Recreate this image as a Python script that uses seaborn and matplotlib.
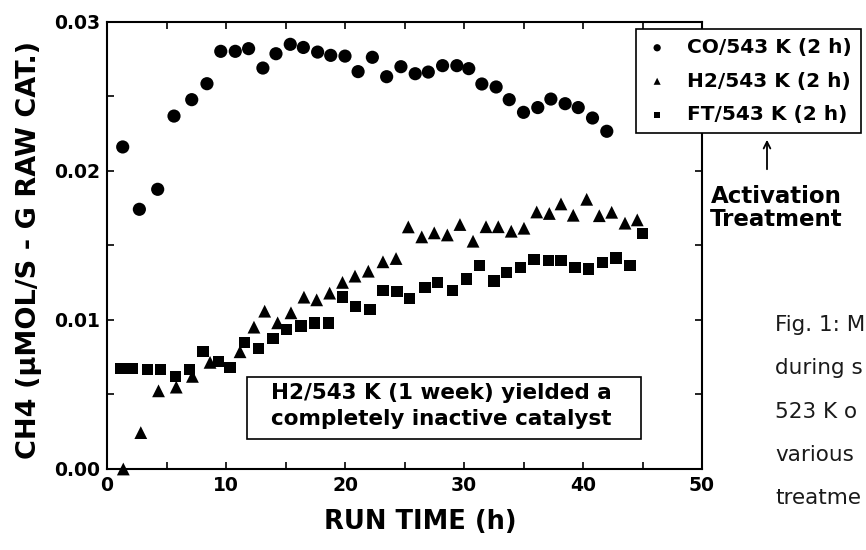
import matplotlib
matplotlib.use("Agg")
import matplotlib.pyplot as plt
import numpy as np
import pandas as pd
import seaborn as sns
from matplotlib.ticker import MultipleLocator, FormatStrFormatter
from matplotlib.patches import Rectangle

# ---- data ----
co_time = [1.32, 2.72, 4.26, 5.63, 7.12, 8.40, 9.56, 10.78, 11.90, 13.10, 14.20, 15.40,
           16.50, 17.70, 18.80, 20.00, 21.10, 22.30, 23.50, 24.70, 25.90, 27.00, 28.20,
           29.40, 30.40, 31.50, 32.70, 33.80, 35.00, 36.20, 37.30, 38.50, 39.60, 40.80, 42.00]
co_ch4 = [0.02159, 0.01741, 0.01875, 0.02366, 0.02476, 0.02583, 0.02800, 0.02800, 0.02818,
          0.02688, 0.02784, 0.02847, 0.02826, 0.02795, 0.02773, 0.02768, 0.02664, 0.02760,
          0.02630, 0.02697, 0.02650, 0.02661, 0.02704, 0.02704, 0.02684, 0.02581, 0.02561,
          0.02476, 0.02391, 0.02423, 0.02480, 0.02449, 0.02423, 0.02353, 0.02264]

h2_time = [1.37, 2.84, 4.33, 5.82, 7.18, 8.66, 11.18, 12.35, 13.25, 14.34, 15.46, 16.55,
           17.62, 18.71, 19.79, 20.84, 21.96, 23.19, 24.29, 25.32, 26.45, 27.50, 28.60,
           29.66, 30.76, 31.85, 32.88, 33.97, 35.04, 36.11, 37.17, 38.15, 39.18, 40.31,
           41.37, 42.41, 43.53, 44.56]
h2_ch4 = [0.00000, 0.00244, 0.00524, 0.00549, 0.00621, 0.00715, 0.00786, 0.00951, 0.01058,
          0.00980, 0.01047, 0.01152, 0.01134, 0.01179, 0.01251, 0.01293, 0.01326, 0.01389,
          0.01411, 0.01623, 0.01556, 0.01583, 0.01569, 0.01639, 0.01527, 0.01624, 0.01624,
          0.01594, 0.01614, 0.01723, 0.01713, 0.01777, 0.01701, 0.01808, 0.01698, 0.01721,
          0.01648, 0.01670]

ft_time = [1.18, 2.17, 3.38, 4.50, 5.78, 6.95, 8.07, 9.35, 10.34, 11.55, 12.73, 13.95,
           15.10, 16.30, 17.44, 18.60, 19.81, 20.87, 22.10, 23.19, 24.37, 25.44, 26.72,
           27.79, 29.02, 30.23, 31.29, 32.52, 33.59, 34.76, 35.88, 37.08, 38.15, 39.33,
           40.45, 41.66, 42.77, 43.95, 45.02]
ft_ch4 = [0.00676, 0.00676, 0.00668, 0.00668, 0.00618, 0.00665, 0.00790, 0.00719, 0.00680,
          0.00849, 0.00810, 0.00875, 0.00936, 0.00959, 0.00978, 0.00978, 0.01154, 0.01090,
          0.01067, 0.01199, 0.01188, 0.01143, 0.01217, 0.01251, 0.01199, 0.01273, 0.01366,
          0.01261, 0.01315, 0.01351, 0.01405, 0.01400, 0.01400, 0.01351, 0.01340, 0.01384,
          0.01415, 0.01366, 0.01579]

labels = ["CO/543 K (2 h)", "H2/543 K (2 h)", "FT/543 K (2 h)"]
x_ticks = [0, 10, 20, 30, 40, 50]
y_ticks = [0.00, 0.01, 0.02, 0.03]
note_lines = ["H2/543 K (1 week) yielded a", "completely inactive catalyst"]
caption_lines = ["Fig. 1: M", "during s", "523 K o", "various", "treatme"]

# ---- style ----
sns.set_theme(style="ticks")
plt.rcParams['font.family'] = ['DejaVu Sans']
plt.rcParams.update({'text.color': 'black', 'axes.labelcolor': 'black',
                     'xtick.color': 'black', 'ytick.color': 'black',
                     'axes.edgecolor': 'black', 'axes.linewidth': 1.5})

W, H = 866, 550
fig = plt.figure(figsize=(W / 100, H / 100), dpi=100)
fig.patch.set_facecolor("white")

def fx(px):
    return px / W

def fy(py):
    return 1 - py / H

AX_L, AX_R, AX_T, AX_B = 107, 702, 21.5, 469
ax = fig.add_axes([fx(AX_L), fy(AX_B), fx(AX_R) - fx(AX_L), fy(AX_T) - fy(AX_B)])
ax.set_facecolor("white")

sns.scatterplot(x=co_time, y=co_ch4, marker='o', s=90, color='black', edgecolor='none',
                label=labels[0], ax=ax, zorder=3, clip_on=False)
sns.scatterplot(x=h2_time, y=h2_ch4, marker='^', s=85, color='black', edgecolor='none',
                label=labels[1], ax=ax, zorder=3, clip_on=False)
sns.scatterplot(x=ft_time, y=ft_ch4, marker='s', s=66, color='black', edgecolor='none',
                label=labels[2], ax=ax, zorder=3, clip_on=False)

ax.set_xlim(0, 50)
ax.set_ylim(0, 0.03)
ax.set_xticks(x_ticks)
ax.set_yticks(y_ticks)
ax.xaxis.set_minor_locator(MultipleLocator(5))
ax.yaxis.set_minor_locator(MultipleLocator(0.005))
ax.yaxis.set_major_formatter(FormatStrFormatter('%.2f'))
ax.tick_params(which='both', direction='in', top=True, right=True, length=5, width=1.2,
               colors='black')
ax.tick_params(which='major', labelsize=13.5, pad=5)
for lab in ax.get_xticklabels() + ax.get_yticklabels():
    lab.set_fontweight('bold')
for sp in ax.spines.values():
    sp.set_color('black')
    sp.set_linewidth(1.5)

ax.set_xlabel("RUN TIME (h)", fontsize=18.5, fontweight='bold', va='center')
ax.xaxis.set_label_coords((420 - AX_L) / (AX_R - AX_L), (AX_B - 522) / (AX_B - AX_T))
ax.set_ylabel("CH4 (\u03bcMOL/S - G RAW CAT.)", fontsize=19.5, fontweight='bold', va='center')
ax.yaxis.set_label_coords((29 - AX_L) / (AX_R - AX_L), (AX_B - 250) / (AX_B - AX_T))

# legend
leg = ax.legend(loc='upper left', bbox_to_anchor=(fx(636), fy(29)),
                bbox_transform=fig.transFigure, frameon=True, fancybox=False,
                edgecolor='black', framealpha=1, markerscale=0.55, handlelength=1.2,
                handletextpad=0.9, borderpad=0.45, labelspacing=0.72, borderaxespad=0,
                prop={'weight': 'bold', 'size': 14.5})
leg.get_frame().set_linewidth(1.2)

# note box inside plot
fig.add_artist(Rectangle((fx(247), fy(439)), fx(641) - fx(247), fy(377) - fy(439),
                         transform=fig.transFigure, fill=False, edgecolor='black', lw=1.2))
fig.text(fx(271), fy(393), note_lines[0], fontsize=15.5, fontweight='bold', va='center', ha='left')
fig.text(fx(271), fy(419), note_lines[1], fontsize=15.5, fontweight='bold', va='center', ha='left')

# activation treatment arrow
ax.annotate('', xy=(fx(767), fy(137)), xytext=(fx(767), fy(172)), xycoords='figure fraction',
            textcoords='figure fraction',
            arrowprops=dict(arrowstyle='->', color='black', lw=1.3, mutation_scale=12))
fig.text(fx(776), fy(196), "Activation", fontsize=16.5, fontweight='bold', ha='center', va='center')
fig.text(fx(776), fy(219), "Treatment", fontsize=16.5, fontweight='bold', ha='center', va='center')

# caption (only the part visible at the right edge in the reference)
for i, line in enumerate(caption_lines):
    fig.text(fx(775), fy(325 + 43.3 * i), line, fontsize=15.5, ha='left', va='center',
             color='#1a1a1a')

fig.savefig("out.png", dpi=100, facecolor='white')
